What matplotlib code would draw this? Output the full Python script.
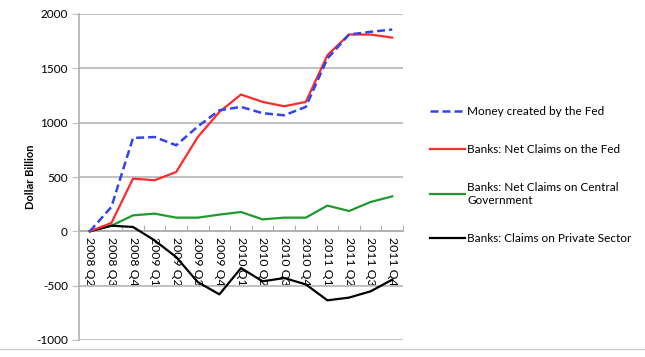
import numpy as np
import matplotlib.pyplot as plt
from matplotlib.lines import Line2D

plt.rcParams['font.family'] = ['Lato', 'DejaVu Sans']
plt.rcParams['axes.unicode_minus'] = False

quarters = ['2008 Q2', '2008 Q3', '2008 Q4', '2009 Q1', '2009 Q2', '2009 Q3', '2009 Q4',
            '2010 Q1', '2010 Q2', '2010 Q3', '2010 Q4', '2011 Q1', '2011 Q2', '2011 Q3', '2011 Q4']

fed_money = [0, 225, 859, 868, 792, 965, 1114, 1145, 1087, 1068, 1145, 1590, 1811, 1836, 1857]
net_claims_fed = [0, 77, 485, 470, 546, 868, 1099, 1259, 1191, 1151, 1191, 1621, 1811, 1811, 1783]
net_claims_gov = [0, 52, 147, 163, 126, 126, 154, 178, 110, 126, 126, 237, 187, 270, 322]
claims_private = [0, 52, 40, -83, -237, -467, -580, -338, -460, -430, -488, -635, -610, -552, -445]

labels = ['Money created by the Fed',
          'Banks: Net Claims on the Fed',
          'Banks: Net Claims on Central\nGovernment',
          'Banks: Claims on Private Sector']

fig = plt.figure(figsize=(6.45, 3.57), dpi=100)
ax = fig.add_axes([79/645, 1 - 340/357, 324/645, 326/357])

x = np.arange(len(quarters))
lw = 1.6
ax.plot(x, fed_money, color='#3344ee', lw=lw + 0.2, ls=(0, (3.2, 1.6)), label=labels[0], zorder=5)
ax.plot(x, net_claims_fed, color='#ff2a2a', lw=lw, label=labels[1], zorder=4)
ax.plot(x, net_claims_gov, color='#1e9a2e', lw=lw, label=labels[2], zorder=3)
ax.plot(x, claims_private, color='black', lw=lw, label=labels[3], zorder=3)

ax.set_xlim(-0.5, len(quarters) - 0.5)
ax.set_ylim(-1000, 2000)
ax.set_yticks(np.arange(-1000, 2001, 500))
ax.yaxis.grid(True, color='#c0c0c0', lw=1.4)
ax.set_axisbelow(True)

for s in ['top', 'right']:
    ax.spines[s].set_visible(False)
ax.spines['left'].set_color('#b0b0b0')
ax.spines['left'].set_linewidth(1.2)
ax.spines['bottom'].set_position(('data', 0))
ax.spines['bottom'].set_color('#b0b0b0')
ax.spines['bottom'].set_linewidth(1.2)

ax.set_xticks(np.arange(-0.5, len(quarters), 1), minor=False)
ax.set_xticklabels([])
ax.set_xticks(x, minor=True)
ax.set_xticklabels(quarters, minor=True, rotation=-90, fontsize=8.8, va='top', ha='center')
ax.tick_params(axis='x', which='major', length=4, direction='in', color='#b0b0b0')
ax.tick_params(axis='x', which='minor', length=0, pad=4)
ax.tick_params(axis='y', length=5, color='#c0c0c0', labelsize=8.5, pad=3)

ax.set_ylabel('Dollar Billion', fontsize=8, fontweight='bold', labelpad=0)

leg = fig.legend(loc='upper left', bbox_to_anchor=(425/645, 1 - 101/357), frameon=False,
                 fontsize=8.5, handlelength=3.0, handletextpad=0.2, labelspacing=2.3,
                 borderaxespad=0)

fig.add_artist(Line2D([0, 1], [1 - 349/357, 1 - 349/357], color='#d0d0d0', lw=1))

fig.savefig('out.png', dpi=100)
